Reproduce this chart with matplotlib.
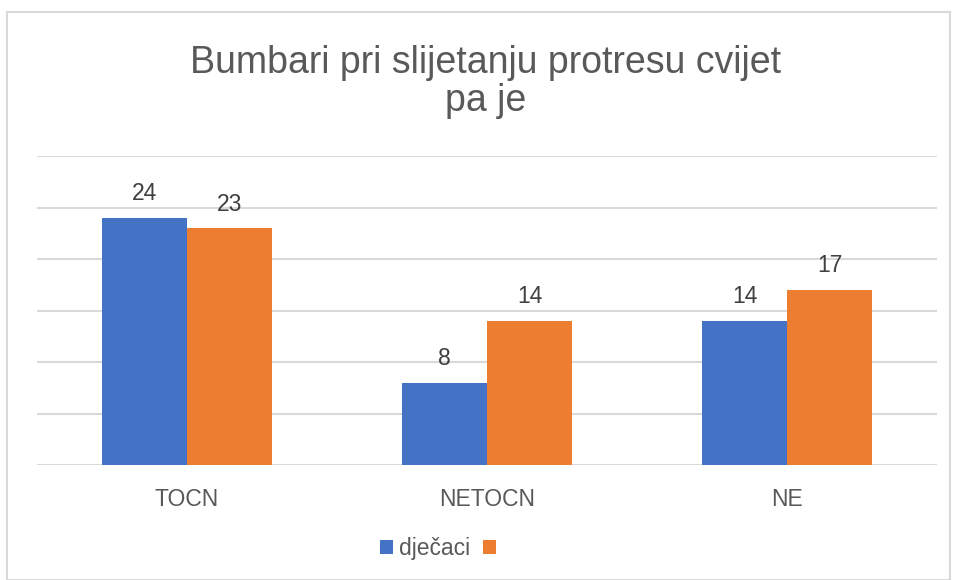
import matplotlib
matplotlib.use("Agg")
import matplotlib.pyplot as plt
from matplotlib.patches import Rectangle, Patch
import numpy as np

plt.rcParams['font.family'] = ['Liberation Sans', 'DejaVu Sans']

categories = ["TOCN", "NETOCN", "NE"]
series_names = ["dječaci", ""]
djecaci = [24, 8, 14]
druga = [23, 14, 17]
colors = ["#4472C4", "#ED7D31"]
title = "Bumbari pri slijetanju protresu cvijet\npa je"

fig = plt.figure(figsize=(9.57, 5.8), dpi=100)
fig.patches.append(Rectangle((7/957, 0), 943/957, 1 - 12/580, transform=fig.transFigure,
                             fill=False, edgecolor="#d9d9d9", linewidth=1.5))
ax = fig.add_axes([37/957, 1 - 465/580, 900/957, (465 - 156)/580])

x = np.arange(len(categories))
w = 0.283
text_color = "#595959"
b1 = ax.bar(x - w/2, djecaci, w, color=colors[0], zorder=3)
b2 = ax.bar(x + w/2, druga, w, color=colors[1], zorder=3)
for bars, vals in ((b1, djecaci), (b2, druga)):
    for r, v in zip(bars, vals):
        ax.annotate(str(v), (r.get_x() + r.get_width()/2, r.get_height()),
                    xytext=(0, 9), textcoords="offset points", ha="center", va="bottom",
                    fontsize=16.5, color="#404040")

ax.set_xlim(-0.5, 2.5)
ax.set_ylim(0, 30)
ax.set_yticks(np.arange(0, 31, 5))
ax.yaxis.grid(True, color="#d9d9d9", linewidth=1.5, zorder=0)
ax.set_axisbelow(True)
ax.tick_params(axis="y", left=False, labelleft=False)
ax.tick_params(axis="x", bottom=False, labelsize=16.5, labelcolor=text_color, pad=13)
ax.set_xticks(x)
ax.set_xticklabels(categories)
for s in ax.spines.values():
    s.set_visible(False)

fig.text(486/957, 1 - 82/580, title, ha="center", va="center", fontsize=27,
         color=text_color, linespacing=1.1)

handles = [Patch(facecolor=c, edgecolor="none") for c in colors]
leg = fig.legend(handles, series_names, loc="center", bbox_to_anchor=(441/957, 1 - 549/580),
                 ncol=2, frameon=False, fontsize=16.5, handlelength=0.55, handleheight=0.55,
                 handletextpad=0.25, columnspacing=0.6)
for t in leg.get_texts():
    t.set_color(text_color)

fig.savefig("out.png", dpi=100)
